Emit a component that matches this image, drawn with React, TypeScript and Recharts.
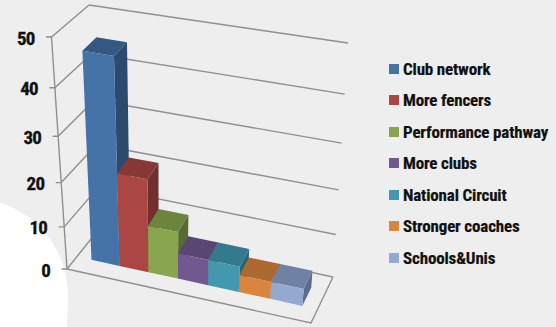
import { BarChart, Bar, XAxis, YAxis, CartesianGrid, Legend } from 'recharts'

const categories = ['Priorities']
const seriesNames = [
  'Club network', 'More fencers', 'Performance pathway', 'More clubs',
  'National Circuit', 'Stronger coaches', 'Schools&Unis',
]
const seriesValues = [46, 21.5, 11, 6, 6, 4, 4]
const seriesColors = ['#4572A7', '#AA4643', '#89A54E', '#71588F', '#4198AF', '#DB843D', '#93A9CF']
const topColors = ['#34587f', '#873836', '#6d843f', '#5a4672', '#337a8c', '#ad692f', '#7082a3']
const sideColors = ['#2c4a6e', '#722f2e', '#586b34', '#4a3a5e', '#2a6574', '#8f5626', '#5c6c88']
const valueTicks = [0, 10, 20, 30, 40, 50]

const data = categories.map((name) => {
  const row: Record<string, string | number> = { name }
  seriesNames.forEach((s, i) => { row[s] = seriesValues[i] })
  return row
})

const W = 556
const H = 327
// flat plot rectangle that the scales work in, project() maps it onto the 3D box
const PLOT = { left: 67, top: 37, right: 317, bottom: 269 }
const FONT = '"Roboto Condensed", "Liberation Sans Narrow", sans-serif'
const GRID = '#8f8f8f'

type Pt = [number, number]
const box = {
  flb: [67, 269] as Pt, flt: [51.5, 37] as Pt,
  frb: [311, 323] as Pt, frt: [335, 85] as Pt,
  blb: [94, 226] as Pt, blt: [89, 5] as Pt,
  brb: [333, 277] as Pt, brt: [348, 43] as Pt,
}
// side wall lines meet the floor a bit lower, the join sits behind the first bar
const wallBack: Pt = [95, 234]

const mix = (a: Pt, b: Pt, t: number): Pt => [a[0] + (b[0] - a[0]) * t, a[1] + (b[1] - a[1]) * t]
const warpU = (u: number) => u + 0.09 * u * (u - 1)
const warpV = (v: number) => v + 0.115 * v * (v - 1)

// u along the categories, v up the value axis, d from front to back
function project(u: number, v: number, d: number): Pt {
  const uu = warpU(u)
  const vv = warpV(v)
  const front = mix(mix(box.flb, box.frb, uu), mix(box.flt, box.frt, uu), vv)
  const back = mix(mix(box.blb, box.brb, uu), mix(box.blt, box.brt, uu), vv)
  return mix(front, back, d)
}

const toU = (x: number) => (x - PLOT.left) / (PLOT.right - PLOT.left)
const toV = (y: number) => (PLOT.bottom - y) / (PLOT.bottom - PLOT.top)
const poly = (pts: Pt[]) => pts.map((p) => p[0].toFixed(1) + ',' + p[1].toFixed(1)).join(' ')

function Box3D(props: any) {
  const { x, y, width, fill, seriesIndex } = props
  const u0 = toU(x)
  const u1 = toU(x + width)
  const v = toV(y)
  const d0 = 0.3
  const d1 = 0.7
  const fbl = project(u0, 0, d0)
  const fbr = project(u1, 0, d0)
  const ftl = project(u0, v, d0)
  const ftr = project(u1, v, d0)
  const bbr = project(u1, 0, d1)
  const btl = project(u0, v, d1)
  const btr = project(u1, v, d1)
  return (
    <g>
      <polygon points={poly([fbr, bbr, btr, ftr])} fill={sideColors[seriesIndex]} />
      <polygon points={poly([ftl, ftr, btr, btl])} fill={topColors[seriesIndex]} />
      <polygon points={poly([fbl, fbr, ftr, ftl])} fill={fill} />
    </g>
  )
}

// each horizontal grid line turns into a side wall segment and a back wall segment
function gridLine(props: any) {
  const v = toV(props.y1)
  const vv = warpV(v)
  const fl = project(0, v, 0)
  const wall = mix(wallBack, box.blt, vv)
  const bl = project(0, v, 1)
  const br = project(1, v, 1)
  const common = { stroke: GRID, strokeWidth: 1.4, fill: 'none' }
  return (
    <g key={props.key}>
      <polyline points={poly([[fl[0] - 5.5, fl[1]], fl, wall])} {...common} />
      <polyline points={poly([bl, br])} {...common} />
      {v < 0.001 && (
        <>
          <polyline points={poly([box.flt, box.flb])} {...common} />
          <polyline points={poly([box.flb, box.frb, box.brb])} {...common} />
        </>
      )}
    </g>
  )
}

function ValueTick(props: any) {
  const { y, payload } = props
  const p = project(0, toV(y), 0)
  return (
    <text
      x={p[0] - 17}
      y={p[1] + 7.5}
      textAnchor="end"
      fontFamily={FONT}
      fontWeight={700}
      fontSize={19}
      letterSpacing={-0.8}
      fill="#111"
      stroke="#111"
      strokeWidth={0.3}
    >
      {payload.value}
    </text>
  )
}

function LegendList() {
  return (
    <div style={{ fontFamily: FONT, fontWeight: 700, fontSize: 17, letterSpacing: -0.16, color: '#111', WebkitTextStroke: '0.2px #111' }}>
      {seriesNames.map((name, i) => (
        <div key={name} style={{ display: 'flex', alignItems: 'center', height: 31.5, whiteSpace: 'nowrap' }}>
          <span style={{ width: 10, height: 10, marginRight: 4, background: seriesColors[i], display: 'inline-block', flex: 'none' }} />
          {name}
        </div>
      ))}
    </div>
  )
}

export default function App() {
  return (
    <div style={{ position: 'absolute', left: 0, top: 0, width: W, height: H, background: '#eeeeee', overflow: 'hidden' }}>
      <svg width={W} height={H} style={{ position: 'absolute', left: 0, top: 0 }}>
        <path d="M0,203 C32,212 68,245 68,298 L67,327 L0,327 Z" fill="#ffffff" />
      </svg>
      <div style={{ position: 'absolute', left: 0, top: 0 }}>
        <BarChart
          width={W}
          height={H}
          data={data}
          barGap={0}
          barCategoryGap={0}
          margin={{ top: PLOT.top, right: W - PLOT.right, bottom: H - PLOT.bottom, left: 0 }}
        >
          <CartesianGrid horizontal={gridLine} vertical={false} />
          <XAxis dataKey="name" hide padding={{ left: 18.5, right: 14.5 }} />
          <YAxis
            width={PLOT.left}
            domain={[0, 50]}
            ticks={valueTicks}
            tick={<ValueTick />}
            axisLine={false}
            tickLine={false}
          />
          <Legend
            layout="vertical"
            align="center"
            verticalAlign="middle"
            itemSorter={null}
            content={<LegendList />}
            wrapperStyle={{ left: 389, top: 53, width: 167, height: 221 }}
          />
          {seriesNames.map((name, i) => (
            <Bar
              key={name}
              dataKey={name}
              fill={seriesColors[i]}
              isAnimationActive={false}
              shape={(p: any) => <Box3D {...p} seriesIndex={i} />}
            />
          ))}
        </BarChart>
      </div>
    </div>
  )
}
